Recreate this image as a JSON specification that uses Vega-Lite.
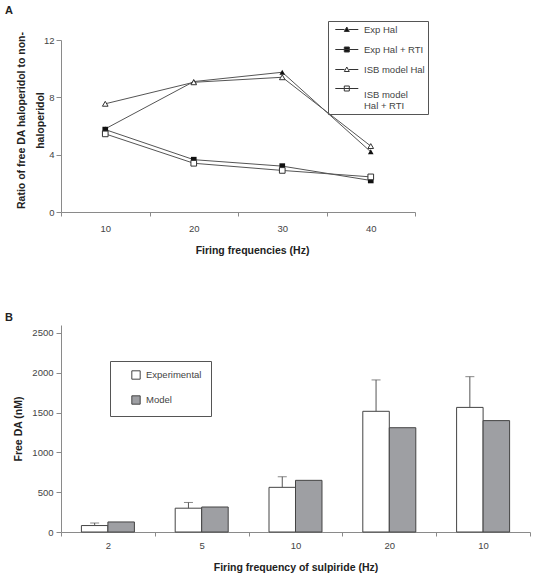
{
  "$schema": "https://vega.github.io/schema/vega-lite/v6.json",
  "padding": {"left": 5, "top": 4, "right": 5, "bottom": 5},
  "background": "white",
  "config": {
    "font": "Liberation Sans",
    "view": {"stroke": null},
    "axis": {
      "domainColor": "#8a8a8a", "tickColor": "#8a8a8a", "labelColor": "#444",
      "labelFontSize": 9.5, "titleFontSize": 10.5, "titleFontWeight": "bold",
      "titleColor": "#222", "grid": false, "tickSize": 5,
      "labelFont": "Liberation Sans", "titleFont": "Liberation Sans"
    },
    "legend": {"labelFont": "Liberation Sans", "labelColor": "#444", "labelFontSize": 9.5},
    "title": {"fontSize": 11, "fontWeight": "bold", "anchor": "start", "frame": "group", "color": "#222", "font": "Liberation Sans"}
  },
  "resolve": {"scale": {"fill": "independent", "shape": "independent", "stroke": "independent"}, "legend": {"fill": "independent", "shape": "independent", "stroke": "independent"}},
  "bounds": "flush",
  "spacing": 113,
  "vconcat": [
    {
      "width": 354,
      "height": 172,
      "title": {"text": "A", "dx": -56, "offset": 5},
      "data": {
        "values": [
          {"series": "Exp Hal", "freq": 10, "ratio": 5.8},
          {"series": "Exp Hal", "freq": 20, "ratio": 9.1},
          {"series": "Exp Hal", "freq": 30, "ratio": 9.75},
          {"series": "Exp Hal", "freq": 40, "ratio": 4.2},
          {"series": "Exp Hal + RTI", "freq": 10, "ratio": 5.75},
          {"series": "Exp Hal + RTI", "freq": 20, "ratio": 3.65},
          {"series": "Exp Hal + RTI", "freq": 30, "ratio": 3.2},
          {"series": "Exp Hal + RTI", "freq": 40, "ratio": 2.2},
          {"series": "ISB model Hal", "freq": 10, "ratio": 7.55},
          {"series": "ISB model Hal", "freq": 20, "ratio": 9.05},
          {"series": "ISB model Hal", "freq": 30, "ratio": 9.4},
          {"series": "ISB model Hal", "freq": 40, "ratio": 4.6},
          {"series": "ISB model Hal + RTI", "freq": 10, "ratio": 5.45},
          {"series": "ISB model Hal + RTI", "freq": 20, "ratio": 3.4},
          {"series": "ISB model Hal + RTI", "freq": 30, "ratio": 2.9},
          {"series": "ISB model Hal + RTI", "freq": 40, "ratio": 2.45}
        ]
      },
      "encoding": {
        "x": {
          "field": "freq", "type": "ordinal",
          "scale": {"type": "band", "paddingInner": 0, "paddingOuter": 0},
          "axis": {"labelAngle": 0, "tickBand": "extent", "tickSize": 4, "title": "Firing frequencies (Hz)", "titleX": 191, "titleY": 33, "labelPadding": 7}
        },
        "y": {
          "field": "ratio", "type": "quantitative",
          "scale": {"domain": [0, 12]},
          "axis": {"values": [0, 4, 8, 12], "title": ["Ratio of free DA haloperidol to non-", "haloperidol"], "titleLineHeight": 19, "titleX": -35, "titleY": 80, "labelPadding": 2}
        }
      },
      "layer": [
        {"mark": {"type": "line", "color": "#555", "strokeWidth": 1}, "encoding": {"detail": {"field": "series"}}},
        {"transform": [{"filter": "datum.series == 'Exp Hal'"}], "mark": {"type": "point", "shape": "triangle-up", "filled": true, "color": "#111", "size": 32, "opacity": 1}},
        {"transform": [{"filter": "datum.series == 'Exp Hal + RTI'"}], "mark": {"type": "point", "shape": "square", "filled": true, "color": "#111", "size": 32, "opacity": 1}},
        {"transform": [{"filter": "datum.series == 'ISB model Hal'"}], "mark": {"type": "point", "shape": "triangle-up", "filled": true, "fill": "white", "stroke": "#333", "strokeWidth": 1, "size": 32, "opacity": 1}},
        {"transform": [{"filter": "datum.series == 'ISB model Hal + RTI'"}], "mark": {"type": "point", "shape": "square", "filled": true, "fill": "white", "stroke": "#333", "strokeWidth": 1, "size": 32, "opacity": 1}},
        {
          "transform": [{"filter": "false"}],
          "mark": {"type": "point", "filled": true, "strokeWidth": 1, "size": 100, "opacity": 1},
          "encoding": {
            "shape": {
              "field": "series",
              "scale": {
                "domain": ["Exp Hal", "Exp Hal + RTI", "ISB model Hal", "ISB model Hal + RTI"],
                "range": [
                  "M-2.3,0H-0.45M0.45,0H2.3M0,-0.5L0.5,0.4L-0.5,0.4Z",
                  "M-2.3,0H2.3M-0.5,-0.5H0.5V0.5H-0.5Z",
                  "M-2.3,0H-0.45M0.45,0H2.3M0,-0.5L0.5,0.4L-0.5,0.4Z",
                  "M-2.3,-1.2H-0.5M0.5,-1.2H2.3M-0.5,-1.7H0.5V-0.7H-0.5ZM-0.5,-1.2H0.5"
                ]
              },
              "legend": {
                "orient": "none", "legendX": 267, "legendY": -19,
                "title": null, "strokeColor": "#555", "padding": 3,
                "symbolSize": 100, "symbolStrokeWidth": 1,
                "symbolOffset": 10.3, "labelOffset": 11.7, "rowPadding": 10,
                "labelExpr": "datum.label == 'ISB model Hal + RTI' ? ['ISB model', 'Hal + RTI'] : datum.label"
              }
            },
            "fill": {
              "field": "series",
              "scale": {
                "domain": ["Exp Hal", "Exp Hal + RTI", "ISB model Hal", "ISB model Hal + RTI"],
                "range": ["#111", "#111", "white", "white"]
              }
            },
            "stroke": {
              "field": "series",
              "scale": {
                "domain": ["Exp Hal", "Exp Hal + RTI", "ISB model Hal", "ISB model Hal + RTI"],
                "range": ["#333", "#333", "#333", "#333"]
              }
            }
          }
        }
      ]
    },
    {
      "width": 469,
      "height": 207,
      "title": {"text": "B", "dx": -56, "offset": 2},
      "data": {
        "values": [
          {"grp": "2", "type": "Experimental", "value": 81, "upper": 113},
          {"grp": "2", "type": "Model", "value": 126},
          {"grp": "5", "type": "Experimental", "value": 299, "upper": 371},
          {"grp": "5", "type": "Model", "value": 314},
          {"grp": "10", "type": "Experimental", "value": 561, "upper": 694},
          {"grp": "10", "type": "Model", "value": 649},
          {"grp": "20", "type": "Experimental", "value": 1516, "upper": 1910},
          {"grp": "20", "type": "Model", "value": 1310},
          {"grp": "10 (2)", "type": "Experimental", "value": 1565, "upper": 1951},
          {"grp": "10 (2)", "type": "Model", "value": 1399}
        ]
      },
      "encoding": {
        "x": {
          "field": "grp", "type": "nominal", "sort": null,
          "scale": {"paddingInner": 0, "paddingOuter": 0},
          "axis": {"labelAngle": 0, "tickBand": "extent", "tickSize": 4, "labelExpr": "replace(datum.label, ' (2)', '')", "title": "Firing frequency of sulpiride (Hz)", "titleY": 30, "labelPadding": 4}
        },
        "xOffset": {"field": "type", "type": "nominal", "scale": {"paddingInner": 0, "paddingOuter": 0.77}}
      },
      "layer": [
        {
          "mark": {"type": "bar", "stroke": "#444", "strokeWidth": 1},
          "encoding": {
            "y": {
              "field": "value", "type": "quantitative",
              "scale": {"domain": [0, 2500]},
              "axis": {"values": [0, 500, 1000, 1500, 2000, 2500], "format": "d", "title": "Free DA (nM)", "titleX": -38, "labelPadding": 3}
            },
            "fill": {
              "field": "type",
              "scale": {"domain": ["Experimental", "Model"], "range": ["white", "#9e9fa3"]},
              "legend": {
                "orient": "none", "legendX": 49, "legendY": 36,
                "title": null, "strokeColor": "#555", "padding": 9,
                "symbolType": "square", "symbolSize": 70, "symbolStrokeColor": "#444", "symbolStrokeWidth": 1,
                "symbolOffset": 12, "labelOffset": 5, "rowPadding": 11
              }
            }
          }
        },
        {
          "transform": [{"filter": "datum.type == 'Experimental'"}],
          "mark": {"type": "rule", "color": "#555", "strokeWidth": 1},
          "encoding": {"y": {"field": "value", "type": "quantitative"}, "y2": {"field": "upper"}}
        },
        {
          "transform": [{"filter": "datum.type == 'Experimental'"}],
          "mark": {"type": "tick", "color": "#555", "size": 9, "thickness": 1},
          "encoding": {"y": {"field": "upper", "type": "quantitative"}}
        }
      ]
    }
  ]
}
